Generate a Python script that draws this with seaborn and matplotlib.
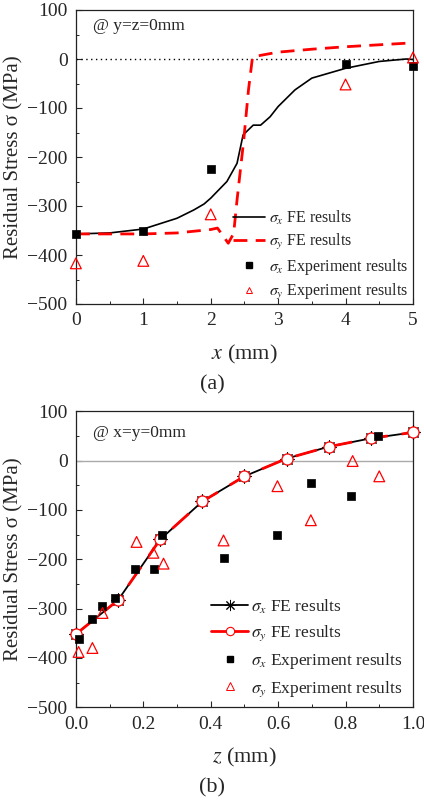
import numpy as np
import pandas as pd
import seaborn as sns
import matplotlib
matplotlib.use("Agg")
import matplotlib.pyplot as plt
from matplotlib.lines import Line2D
from matplotlib.ticker import MultipleLocator

# ---------------- Panel (a) data ----------------
xa_fe_sx = [0, 0.5, 1.0, 1.5, 1.75, 1.9, 2.0, 2.24, 2.39, 2.48, 2.63, 2.74, 2.88, 3.0, 3.25, 3.5, 4.0, 4.5, 4.9, 5.0]
ya_fe_sx = [-357, -355, -347, -325, -308, -296, -284, -250, -213, -155, -135, -135, -118, -97, -63, -39, -19, -5, 0, -1]
xa_fe_sy = [0, 0.5, 1.0, 1.5, 2.0, 2.1, 2.26, 2.34, 2.39, 2.49, 2.56, 2.62, 2.76, 3.0, 3.5, 4.0, 4.5, 5.0]
ya_fe_sy = [-357, -357, -357, -355, -348, -345, -376, -356, -288, -165, -63, 4, 8, 14, 20, 25, 29, 33]
xa_exp_sx = [0, 1, 2, 4, 5]
ya_exp_sx = [-357, -350, -224, -10, -14]
xa_exp_sy = [0, 1, 2, 4, 5]
ya_exp_sy = [-417, -412, -317, -52, 3]

# ---------------- Panel (b) data ----------------
zb_fe = [0.0, 0.125, 0.25, 0.375, 0.5, 0.625, 0.75, 0.875, 1.0]
yb_fe_sx = [-352, -283, -160, -83, -32, 4, 28, 45, 57]
yb_fe_sy = [-352, -283, -160, -83, -32, 4, 28, 45, 57]
zb_exp_sx = [0.01, 0.047, 0.076, 0.116, 0.176, 0.231, 0.256, 0.44, 0.598, 0.697, 0.817, 0.896]
yb_exp_sx = [-361, -321, -295, -279, -220, -220, -150, -197, -150, -45, -71, 49]
zb_exp_sy = [0.008, 0.049, 0.079, 0.18, 0.23, 0.26, 0.438, 0.598, 0.697, 0.821, 0.9]
yb_exp_sy = [-388, -380, -309, -165, -187, -209, -162, -52, -121, -1, -32]

sns.set_style("ticks")
plt.rcParams['font.family'] = ['Liberation Serif', 'DejaVu Serif']
plt.rcParams['mathtext.fontset'] = 'stix'
plt.rcParams['axes.linewidth'] = 0.9

fig = plt.figure(figsize=(4.24, 8.0), dpi=100)
axa = fig.add_axes([0.179, 0.620, 0.795, 0.3675])
axb = fig.add_axes([0.179, 0.116, 0.795, 0.370])

RED = '#ff0000'

# ---- (a) ----
axa.axhline(0, color='black', lw=1.0, ls=(0, (1, 2.5)), zorder=1)
sns.lineplot(x=xa_fe_sx, y=ya_fe_sx, ax=axa, color='black', lw=1.2, sort=False, zorder=3)
sns.lineplot(x=xa_fe_sy, y=ya_fe_sy, ax=axa, color=RED, lw=2.0, sort=False, zorder=3,
             dashes=False, linestyle=(0, (5, 3)))
sns.scatterplot(x=xa_exp_sx, y=ya_exp_sx, ax=axa, marker='s', s=36, color='black',
                edgecolor='black', linewidth=0.5, zorder=4, clip_on=False)
sns.scatterplot(x=xa_exp_sy, y=ya_exp_sy, ax=axa, marker='^', s=60, facecolor='none',
                edgecolor=RED, linewidth=0.9, zorder=4, clip_on=False)
axa.set_xlim(0, 5)
axa.set_ylim(-500, 100)
axa.xaxis.set_major_locator(MultipleLocator(1))
axa.xaxis.set_minor_locator(MultipleLocator(0.5))
axa.yaxis.set_major_locator(MultipleLocator(100))
axa.yaxis.set_minor_locator(MultipleLocator(50))
axa.text(0.05, 0.945, '@ y=z=0mm', transform=axa.transAxes, fontsize=12.5, va='center', ha='left')
axa.set_xlabel(r'$x$ (mm)', fontsize=16, labelpad=10)
axa.set_ylabel('Residual Stress σ (MPa)', fontsize=15, labelpad=3)

hand_a = [
    Line2D([], [], color='black', lw=1.2),
    Line2D([], [], color=RED, lw=2.0, ls=(0, (5, 3))),
    Line2D([], [], color='black', marker='s', ls='none', ms=4.5),
    Line2D([], [], color=RED, marker='^', ls='none', ms=5, mfc='none', mew=0.7),
]
lab_a = [r'$\sigma_x$ FE results', r'$\sigma_y$ FE results',
         r'$\sigma_x$ Experiment results', r'$\sigma_y$ Experiment results']
axa.legend(hand_a, lab_a, loc='lower right', bbox_to_anchor=(1.005, -0.015), frameon=False,
           fontsize=11.5, handlelength=2.0, handletextpad=0.25, labelspacing=0.32, borderaxespad=0.0)

# ---- (b) ----
axb.axhline(0, color='#aaaaaa', lw=1.0, zorder=1)
sns.lineplot(x=zb_fe, y=yb_fe_sx, ax=axb, color='black', lw=1.3, zorder=3,
             marker=(8, 2, 0), markersize=10, markeredgewidth=0.8, markeredgecolor='black', clip_on=False)
sns.lineplot(x=zb_fe, y=yb_fe_sy, ax=axb, color=RED, lw=2.0, zorder=4, dashes=False,
             linestyle=(0, (8, 5)), marker='o', markersize=8, markerfacecolor='white',
             markeredgecolor=RED, markeredgewidth=0.9, clip_on=False)
sns.scatterplot(x=zb_exp_sx, y=yb_exp_sx, ax=axb, marker='s', s=36, color='black',
                edgecolor='black', linewidth=0.5, zorder=5, clip_on=False)
sns.scatterplot(x=zb_exp_sy, y=yb_exp_sy, ax=axb, marker='^', s=60, facecolor='none',
                edgecolor=RED, linewidth=0.9, zorder=5, clip_on=False)
axb.set_xlim(0, 1.0)
axb.set_ylim(-500, 100)
axb.xaxis.set_major_locator(MultipleLocator(0.2))
axb.xaxis.set_minor_locator(MultipleLocator(0.1))
axb.xaxis.set_major_formatter(matplotlib.ticker.FormatStrFormatter('%.1f'))
axb.yaxis.set_major_locator(MultipleLocator(100))
axb.yaxis.set_minor_locator(MultipleLocator(50))
axb.text(0.05, 0.926, '@ x=y=0mm', transform=axb.transAxes, fontsize=12.5, va='center', ha='left')
axb.set_xlabel(r'$z$ (mm)', fontsize=16, labelpad=10)
axb.set_ylabel('Residual Stress σ (MPa)', fontsize=15, labelpad=3)

hand_b = [
    Line2D([], [], color='black', lw=1.3, marker=(8, 2, 0), ms=8, mew=0.7),
    Line2D([], [], color=RED, lw=2.0, marker='o', ms=6, mfc='white', mec=RED, mew=0.8),
    Line2D([], [], color='black', marker='s', ls='none', ms=5),
    Line2D([], [], color=RED, marker='^', ls='none', ms=6, mfc='none', mew=0.7),
]
lab_b = lab_a
axb.legend(hand_b, lab_b, loc='lower right', bbox_to_anchor=(0.995, 0.0), frameon=False,
           fontsize=12.5, handlelength=2.1, handletextpad=0.2, labelspacing=0.45, borderaxespad=0.1)

for ax in (axa, axb):
    ax.tick_params(axis='both', which='major', direction='in', length=4, width=0.8,
                   labelsize=14, top=False, right=False, pad=6)
    ax.tick_params(axis='both', which='minor', direction='in', length=2.5, width=0.7,
                   top=False, right=False)
    for sp in ax.spines.values():
        sp.set_visible(True)
        sp.set_color('#222222')

fig.text(0.5, 0.519, '(a)', ha='center', va='center', fontsize=16)
fig.text(0.5, 0.015, '(b)', ha='center', va='center', fontsize=16)

fig.savefig('out.png', dpi=100)
